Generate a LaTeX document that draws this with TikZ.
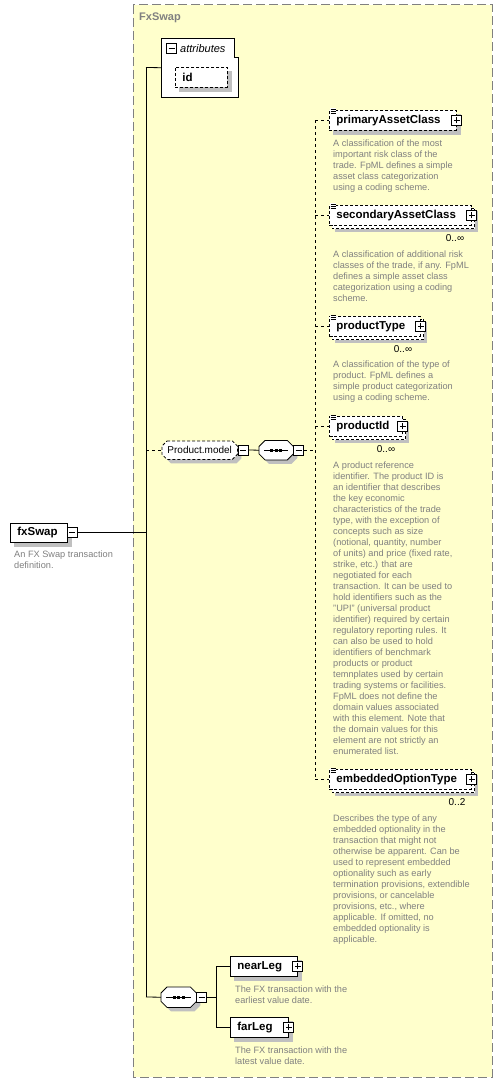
\documentclass[tikz,border=0pt]{standalone}
\usepackage{fontspec}
\setmainfont{Liberation Sans}
\usetikzlibrary{calc}
\definecolor{grpfill}{RGB}{255,255,204}
\definecolor{grpline}{RGB}{128,128,128}
\definecolor{descc}{RGB}{128,128,128}
\definecolor{shadc}{RGB}{192,192,192}
\pgfdeclarelayer{bg}\pgfdeclarelayer{shad}\pgfdeclarelayer{boxes}
\pgfsetlayers{bg,shad,boxes,main}
\newcommand\chamfer[5]{\path[#5] ([shift={(#3+#2,#4)}]#1.north west) -- ([shift={(#3-#2,#4)}]#1.north east) -- ([shift={(#3,#4+#2)}]#1.north east) -- ([shift={(#3,#4-#2)}]#1.south east) -- ([shift={(#3-#2,#4)}]#1.south east) -- ([shift={(#3+#2,#4)}]#1.south west) -- ([shift={(#3,#4-#2)}]#1.south west) -- ([shift={(#3,#4+#2)}]#1.north west) -- cycle;}
\newcommand\shad[3]{\begin{pgfonlayer}{shad}\fill[shadc] ([shift={(#2,#3)}]#1.north west) rectangle ([shift={(#2,#3)}]#1.south east);\end{pgfonlayer}}
\newcommand\stackback[1]{\begin{pgfonlayer}{shad}\fill[shadc] ([shift={(6,6)}]#1.north west) rectangle ([shift={(6,6)}]#1.south east);\end{pgfonlayer}\begin{pgfonlayer}{boxes}\draw[opt, fill=white, line width=0.8pt] ([shift={(3,3)}]#1.north west) rectangle ([shift={(3,3)}]#1.south east);\end{pgfonlayer}}
\newcommand\eqmark[1]{\fill[white] ([shift={(1,-1.5)}]#1.north west) rectangle ([shift={(7,3.8)}]#1.north west);\draw[line width=0.6pt] ([shift={(1.5,-0.8)}]#1.north west) -- ([shift={(6.5,-0.8)}]#1.north west) ([shift={(1.5,1.1)}]#1.north west) -- ([shift={(6.5,1.1)}]#1.north west) ([shift={(1.5,3)}]#1.north west) -- ([shift={(6.5,3)}]#1.north west);}
\newcommand\seqsym[1]{\draw[line width=0.9pt] ([xshift=5pt]#1.west) -- ([xshift=-5pt]#1.east);\foreach \d in {-4.5,0,4.5}{\fill ([shift={(\d-1.3,-1.3)}]#1.center) rectangle ([shift={(\d+1.3,1.3)}]#1.center);}}
\begin{document}
\begin{tikzpicture}[x=1pt,y=-1pt,
  box/.style={draw, fill=white, line width=0.8pt, anchor=north west},
  opt/.style={dash pattern=on 3pt off 2pt},
  dcon/.style={line width=0.8pt, dash pattern=on 3pt off 3pt},
  con/.style={line width=0.8pt},
  elem/.style={box, font=\fontsize{11.5}{13}\selectfont\bfseries, align=left, inner xsep=7pt, inner ysep=0pt, minimum height=20pt},
  desc/.style={font=\fontsize{9.2}{11}\selectfont, text=descc, align=left, anchor=north west, inner sep=0pt},
  mult/.style={font=\fontsize{10}{12}\selectfont, inner sep=0pt},
  icon/.style={draw, fill=white, line width=0.8pt, minimum size=10pt, inner sep=0pt},
  plusic/.style={icon, path picture={\draw[line width=0.8pt] ([xshift=-3pt]path picture bounding box.center) -- ([xshift=3pt]path picture bounding box.center) ([yshift=-3pt]path picture bounding box.center) -- ([yshift=3pt]path picture bounding box.center);}},
  minusic/.style={icon, path picture={\draw[line width=0.8pt] ([xshift=-3pt]path picture bounding box.center) -- ([xshift=3pt]path picture bounding box.center);}},
  grp/.style={fill=grpfill, draw=grpline, line width=1pt, dash pattern=on 9pt off 4pt}
]
\useasboundingbox (0,0) rectangle (503,1083);
\begin{pgfonlayer}{bg}
\fill[white] (0,0) rectangle (503,1083);
\path[grp] (133,5) rectangle (492,1077);
\end{pgfonlayer}
\node[anchor=west, font=\fontsize{11}{13}\selectfont\bfseries, text=grpline, inner sep=0pt] (ttl) at (139,18) {FxSwap};

% attributes
\node[anchor=north west, minimum width=77pt, minimum height=59pt, inner sep=0pt] (attr) at (161,38) {};
\begin{pgfonlayer}{shad}
\draw[fill=white, line width=0.8pt] (attr.north west) -- (234,38) -- (234,57) -- (attr.east |- 0,57) -- (attr.south east) -- (attr.south west) -- cycle;
\end{pgfonlayer}
\node[minusic] (attrm) at (171.5,48.5) {};
\node[anchor=west, font=\fontsize{11}{13}\selectfont\itshape, inner sep=0pt] (attrt) at (180,48.5) {attributes};
\node[elem, opt, text width=38pt] (id) at (175,67) {id};
\shad{id}{4}{4}

% spine
\coordinate (spT) at (146,67.5);
\coordinate (spB) at (146,997);
\draw[con] (spT) -- (spB);
\draw[con] (spT) -- (attr.west);

% fxSwap
\node[elem, text width=43pt, minimum height=19pt] (fx) at (10,523) {fxSwap};
\shad{fx}{4}{4}
\node[minusic] (fxm) at (72,532.5) {};
\draw[con] (fxm.east) -- (fxm.east -| spT);
\node[desc] (fxd) at (14,550.5) {An FX Swap transaction\\definition.};

% Product.model
\node[anchor=north west, minimum width=75pt, minimum height=18pt, inner sep=0pt, font=\fontsize{10}{12}\selectfont] (pm) at (162,441) {Product.model};
\begin{pgfonlayer}{shad}\chamfer{pm}{5}{4}{4}{fill=shadc}\end{pgfonlayer}
\begin{pgfonlayer}{boxes}\chamfer{pm}{5}{0}{0}{fill=white, draw, line width=0.8pt, opt}\end{pgfonlayer}
\node[minusic] (pmm) at (243,450) {};
\draw[dcon] (pm.west -| spT) -- (pm.west);

% sequence 1
\node[anchor=north west, minimum width=34pt, minimum height=19pt, inner sep=0pt] (sq1) at (259,440.5) {};
\begin{pgfonlayer}{shad}\chamfer{sq1}{6}{4}{4}{fill=shadc}\end{pgfonlayer}
\begin{pgfonlayer}{boxes}\chamfer{sq1}{6}{0}{0}{fill=white, draw, line width=0.8pt}\end{pgfonlayer}
\seqsym{sq1}
\node[minusic] (sq1m) at (298.5,450) {};
\draw[con] (pmm.east) -- (sq1.west);
\coordinate (ch) at (315,450);
\draw[dcon] (sq1m.east) -- (ch);

% children of Product.model
\node[elem, opt, text width=113pt] (pac) at (329,110) {primaryAssetClass};
\shad{pac}{4}{4}
\eqmark{pac}
\node[plusic] (pacp) at (pac.east) {};
\node[desc] (pacd) at (333,139.5) {A classification of the most\\important risk class of the\\trade. FpML defines a simple\\asset class categorization\\using a coding scheme.};

\node[elem, opt, text width=128pt] (sac) at (329,205) {secondaryAssetClass};
\stackback{sac}
\eqmark{sac}
\node[plusic] (sacp) at (sac.east) {};
\node[mult] (sacm) at (455,238) {0..∞};
\node[desc] (sacd) at (333,250.5) {A classification of additional risk\\classes of the trade, if any. FpML\\defines a simple asset class\\categorization using a coding\\scheme.};

\node[elem, opt, text width=77pt] (pt) at (329,316) {productType};
\stackback{pt}
\eqmark{pt}
\node[plusic] (ptp) at (pt.east) {};
\node[mult] (ptm) at (403,349) {0..∞};
\node[desc] (ptd) at (333,360.5) {A classification of the type of\\product. FpML defines a\\simple product categorization\\using a coding scheme.};

\node[elem, opt, text width=59pt] (pid) at (329,416) {productId};
\stackback{pid}
\eqmark{pid}
\node[plusic] (pidp) at (pid.east) {};
\node[mult] (pidm) at (386,449) {0..∞};
\node[desc] (pidd) at (333,461.5) {A product reference\\identifier. The product ID is\\an identifier that describes\\the key economic\\characteristics of the trade\\type, with the exception of\\concepts such as size\\(notional, quantity, number\\of units) and price (fixed rate,\\strike, etc.) that are\\negotiated for each\\transaction. It can be used to\\hold identifiers such as the\\"UPI" (universal product\\identifier) required by certain\\regulatory reporting rules. It\\can also be used to hold\\identifiers of benchmark\\products or product\\temnplates used by certain\\trading systems or facilities.\\FpML does not define the\\domain values associated\\with this element. Note that\\the domain values for this\\element are not strictly an\\enumerated list.};

\node[elem, opt, text width=128pt] (eot) at (329,769) {embeddedOptionType};
\stackback{eot}
\eqmark{eot}
\node[plusic] (eotp) at (eot.east) {};
\node[mult] (eotm) at (457,802) {0..2};
\node[desc] (eotd) at (333,814.5) {Describes the type of any\\embedded optionality in the\\transaction that might not\\otherwise be apparent. Can be\\used to represent embedded\\optionality such as early\\termination provisions, extendible\\provisions, or cancelable\\provisions, etc., where\\applicable. If omitted, no\\embedded optionality is\\applicable.};

\draw[dcon] (pac.west -| ch) -- (eot.west -| ch);
\foreach \n in {pac,sac,pt,pid,eot}{\draw[dcon] (\n.west -| ch) -- (\n.west);}

% sequence 2
\node[anchor=north west, minimum width=35pt, minimum height=20pt, inner sep=0pt] (sq2) at (161,987) {};
\begin{pgfonlayer}{shad}\chamfer{sq2}{6}{4}{4}{fill=shadc}\end{pgfonlayer}
\begin{pgfonlayer}{boxes}\chamfer{sq2}{6}{0}{0}{fill=white, draw, line width=0.8pt}\end{pgfonlayer}
\seqsym{sq2}
\node[minusic] (sq2m) at (201.5,997) {};
\draw[con] (spB) -- (sq2.west);
\coordinate (br) at (216,997);
\draw[con] (sq2m.east) -- (br);

\node[elem, text width=53pt] (near) at (230,956) {nearLeg};
\shad{near}{4}{4}
\node[plusic] (nearp) at (near.east) {};
\node[desc] (neard) at (235,985.5) {The FX transaction with the\\earliest value date.};

\node[elem, text width=44pt] (far) at (230,1017) {farLeg};
\shad{far}{4}{4}
\node[plusic] (farp) at (far.east) {};
\node[desc] (fard) at (235,1046.5) {The FX transaction with the\\latest value date.};

\draw[con] (near.west) -- (near.west -| br) -- (far.west -| br) -- (far.west);
\end{tikzpicture}
\end{document}
